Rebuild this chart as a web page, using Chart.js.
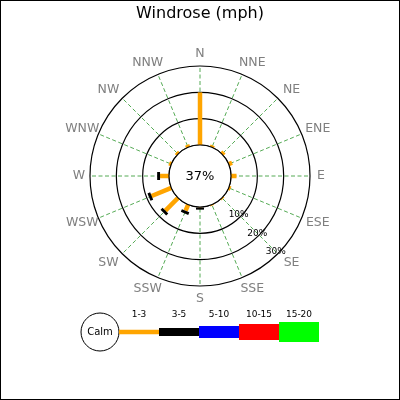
<!DOCTYPE html>
<html lang="en">
<head>
<meta charset="UTF-8">
<title>Windrose</title>
<script src="https://cdn.jsdelivr.net/npm/chart.js"></script>
<style>
  body { margin: 0; background: #fff; }
  canvas { display: block; }
</style>
</head>
<body>
<canvas id="rose" width="400" height="400"></canvas>
<script>
// data
const directions = ['N','NNE','NE','ENE','E','ESE','SE','SSE','S','SSW','SW','WSW','W','WNW','NW','NNW'];
const speedBins = ['1-3','3-5','5-10','10-15','15-20'];
const calmPct = 37;
const freq1to3   = [20, 0.8, 1.1, 1.4, 2.1, 0.8, 0.5, 0.4, 0.2, 2.5, 6.8, 8.1, 3.4, 0.9, 0.9, 1.0];
const freq3to5   = [0, 0, 0, 0, 0, 0, 0, 0, 0.8, 1.1, 1.1, 1.1, 1.1, 0, 0, 0];
const freq5to10  = [0, 0, 0, 0, 0, 0, 0, 0, 0, 0, 0, 0, 0, 0, 0, 0];
const freq10to15 = [0, 0, 0, 0, 0, 0, 0, 0, 0, 0, 0, 0, 0, 0, 0, 0];
const freq15to20 = [0, 0, 0, 0, 0, 0, 0, 0, 0, 0, 0, 0, 0, 0, 0, 0];
const ringTicks = [0, 10, 20, 30];

const binFreqs = [freq1to3, freq3to5, freq5to10, freq10to15, freq15to20];
const binColors = ['#ffa500', '#000000', '#0000ff', '#ff0000', '#00ff00'];
const binWidths = [4.5, 8, 12, 16, 20];
const FONT = "'DejaVu Sans', sans-serif";

// bars, calm circle, labels and legend drawn with the radial scale
const rosePlugin = {
  id: 'rose',
  beforeDatasetsDraw(chart) {
    const ctx = chart.ctx;
    const s = chart.scales.r;
    const r0 = s.getDistanceFromCenterForValue(0);

    // stacked bars per direction
    directions.forEach((d, i) => {
      let base = 0;
      binFreqs.forEach((arr, b) => {
        const v = arr[i];
        if (!v) return;
        const p1 = s.getPointPosition(i, s.getDistanceFromCenterForValue(base));
        const p2 = s.getPointPosition(i, s.getDistanceFromCenterForValue(base + v));
        ctx.save();
        ctx.strokeStyle = binColors[b];
        ctx.lineWidth = binWidths[b];
        ctx.lineCap = 'butt';
        ctx.beginPath();
        ctx.moveTo(p1.x, p1.y);
        ctx.lineTo(p2.x, p2.y);
        ctx.stroke();
        ctx.restore();
        base += v;
      });
    });

    // calm circle
    ctx.save();
    ctx.beginPath();
    ctx.arc(s.xCenter, s.yCenter, r0, 0, Math.PI * 2);
    ctx.fillStyle = '#fff';
    ctx.fill();
    ctx.lineWidth = 1.2;
    ctx.strokeStyle = '#000';
    ctx.stroke();
    ctx.fillStyle = '#000';
    ctx.font = '13px ' + FONT;
    ctx.textAlign = 'center';
    ctx.textBaseline = 'middle';
    ctx.fillText(calmPct + '%', s.xCenter, s.yCenter + 0.5);

    // ring labels along SE
    ctx.font = '9px ' + FONT;
    ringTicks.slice(1).forEach(v => {
      const p = s.getPointPosition(6, s.getDistanceFromCenterForValue(v) - 2.7);
      ctx.fillText(v + '%', p.x, p.y);
    });

    // direction labels
    ctx.font = '12.5px ' + FONT;
    ctx.fillStyle = '#7f7f7f';
    directions.forEach((d, i) => {
      const a = s.getIndexAngle(i);
      const sx = Math.sin(a), cy = Math.cos(a);
      let x = s.xCenter + 121 * sx;
      if (Math.abs(sx) > 0.1 && Math.abs(sx) < 0.99) x += 6 * Math.sign(sx);
      const y = s.yCenter - 122.5 * cy;
      ctx.fillText(d, x, y);
    });
    ctx.restore();
  },
  afterDraw(chart) {
    const ctx = chart.ctx;
    ctx.save();
    // legend
    const ly = 332, cx = 100, cr = 19;
    ctx.beginPath();
    ctx.arc(cx, ly, cr, 0, Math.PI * 2);
    ctx.lineWidth = 1;
    ctx.strokeStyle = '#000';
    ctx.stroke();
    ctx.fillStyle = '#000';
    ctx.font = '10px ' + FONT;
    ctx.textAlign = 'center';
    ctx.textBaseline = 'middle';
    ctx.fillText('Calm', cx, ly);
    ctx.font = '9px ' + FONT;
    speedBins.forEach((lab, b) => {
      const x0 = cx + cr + b * 40;
      ctx.fillStyle = binColors[b];
      ctx.fillRect(x0, ly - binWidths[b] / 2, 40, binWidths[b]);
      ctx.fillStyle = '#000';
      ctx.fillText(lab, x0 + 20, 315);
    });
    // frame
    ctx.strokeStyle = '#000';
    ctx.lineWidth = 1;
    ctx.strokeRect(0.5, 0.5, 399, 399);
    ctx.restore();
  }
};

const chart = new Chart(document.getElementById('rose'), {
  type: 'radar',
  data: {
    labels: directions,
    datasets: [{
      data: freq1to3,
      borderWidth: 0,
      pointRadius: 0,
      backgroundColor: 'transparent',
      borderColor: 'transparent'
    }]
  },
  options: {
    responsive: false,
    animation: false,
    events: [],
    layout: { padding: { left: 90, right: 90, top: 0, bottom: 113 } },
    plugins: {
      legend: { display: false },
      tooltip: { enabled: false },
      title: {
        display: true,
        text: 'Windrose (mph)',
        color: '#000',
        font: { family: FONT, size: 16, weight: 'normal' },
        padding: { top: 4, bottom: 43 }
      }
    },
    scales: {
      r: {
        min: -31 / (79 / 30),
        max: 30,
        afterBuildTicks: scale => { scale.ticks = ringTicks.map(v => ({ value: v })); },
        ticks: { display: false },
        pointLabels: { display: false },
        grid: { circular: true, color: '#000', lineWidth: 1.2 },
        angleLines: { color: 'rgba(0,128,0,0.75)', lineWidth: 0.9, borderDash: [4, 2.5] }
      }
    }
  },
  plugins: [rosePlugin]
});
</script>
</body>
</html>
